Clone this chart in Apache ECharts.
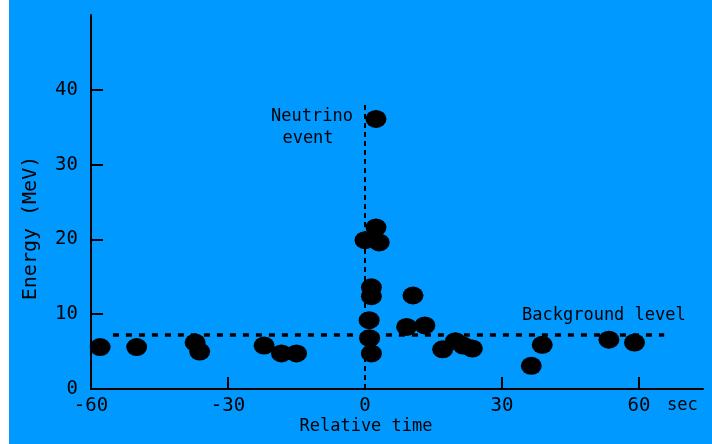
<!DOCTYPE html>
<html>
<head>
<meta charset="utf-8">
<script src="https://cdn.jsdelivr.net/npm/echarts@6/dist/echarts.min.js"></script>
<style>
html,body{margin:0;padding:0;background:#ffffff;}
#c{width:712px;height:444px;}
</style>
</head>
<body>
<div id="c"></div>
<script>
// Relative time (s) and energy (MeV) of each detected event
const times    = [-58.0, -50.0, -37.2, -36.2, -22.1, -18.3, -15.0, 0.0, 0.9, 1.0, 1.4, 1.4, 1.4, 2.4, 2.4, 3.1, 9.1, 10.5, 13.1, 17.0, 19.8, 21.5, 23.5, 36.4, 38.8, 53.4, 59.0];
const energies = [5.6, 5.6, 6.2, 5.0, 5.8, 4.75, 4.75, 19.9, 9.2, 6.8, 4.75, 13.6, 12.4, 36.1, 21.6, 19.6, 8.3, 12.5, 8.5, 5.3, 6.4, 5.8, 5.4, 3.1, 5.9, 6.6, 6.2];
const xTickLabels = [-60, -30, 0, 30, 60];
const xTicks = [-30, 30, 60];
const yTickLabels = [0, 10, 20, 30, 40];
const yTicks = [10, 20, 30, 40];
const backgroundLevel = 7.2;
const bgLineRange = [-55.2, 65.5];
const neutrinoLineTop = 38;

const FONT = '"DejaVu Sans Mono", monospace';
const chart = echarts.init(document.getElementById('c'), null, {renderer: 'canvas'});
const points = times.map((t, i) => [t, energies[i]]);

chart.setOption({
  backgroundColor: '#0099ff',
  animation: false,
  grid: {left: 91, right: 9, top: 15, bottom: 55, containLabel: false},
  xAxis: {
    type: 'value', min: -60, max: 74,
    splitLine: {show: false},
    axisLine: {show: true, onZero: false, lineStyle: {color: '#000', width: 2}},
    axisTick: {show: true, inside: true, length: 12, customValues: xTicks, lineStyle: {color: '#000', width: 2}},
    axisLabel: {customValues: xTickLabels, color: '#000', fontFamily: FONT, fontSize: 19, margin: 8,
      formatter: v => (v < 0 ? '-' : '') + Math.abs(v)}
  },
  yAxis: {
    type: 'value', min: 0, max: 50,
    splitLine: {show: false},
    axisLine: {show: true, onZero: false, lineStyle: {color: '#000', width: 2}},
    axisTick: {show: true, inside: true, length: 12, customValues: yTicks, lineStyle: {color: '#000', width: 2}},
    axisLabel: {customValues: yTickLabels, color: '#000', fontFamily: FONT, fontSize: 19, margin: 13}
  },
  series: [{
    type: 'scatter',
    data: points,
    symbol: 'circle',
    symbolSize: [21, 18],
    itemStyle: {color: '#000', opacity: 1},
    markLine: {
      silent: true, symbol: 'none', label: {show: false},
      data: [
        [{coord: [bgLineRange[0], backgroundLevel], lineStyle: {color: '#000', width: 3.5, type: [6, 7]}},
         {coord: [bgLineRange[1], backgroundLevel]}],
        [{coord: [0, 0], lineStyle: {color: '#000', width: 2, type: [5, 4]}},
         {coord: [0, neutrinoLineTop]}]
      ]
    },
    z: 3
  }],
  graphic: [
    {type: 'rect', shape: {x: 0, y: 0, width: 9, height: 444}, style: {fill: '#ffffff'}},
    {type: 'text', x: 312, y: 117, style: {text: 'Neutrino', font: '17px ' + FONT, fill: '#000', align: 'center', verticalAlign: 'middle'}},
    {type: 'text', x: 308, y: 139, style: {text: 'event', font: '17px ' + FONT, fill: '#000', align: 'center', verticalAlign: 'middle'}},
    {type: 'text', x: 522, y: 316, style: {text: 'Background level', font: '17px ' + FONT, fill: '#000', align: 'left', verticalAlign: 'middle'}},
    {type: 'text', x: 667, y: 406, style: {text: 'sec', font: '17px ' + FONT, fill: '#000', align: 'left', verticalAlign: 'middle'}},
    {type: 'text', x: 366, y: 427, style: {text: 'Relative time', font: '17px ' + FONT, fill: '#000', align: 'center', verticalAlign: 'middle'}},
    {type: 'text', x: 31, y: 228, rotation: Math.PI / 2, style: {text: 'Energy (MeV)', font: '20px ' + FONT, fill: '#000', align: 'center', verticalAlign: 'middle'}}
  ]
});
</script>
</body>
</html>
